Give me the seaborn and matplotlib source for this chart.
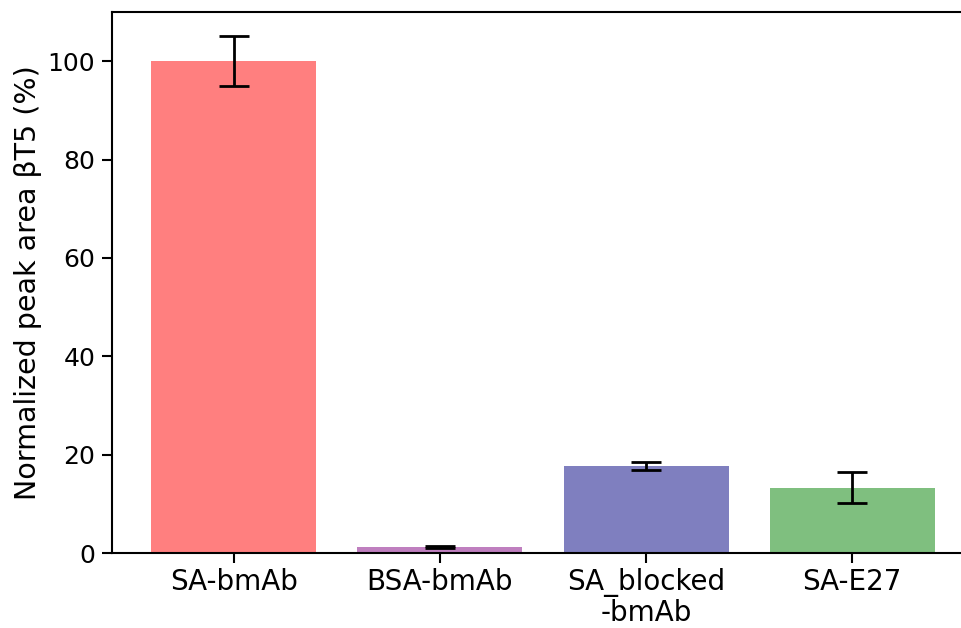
import matplotlib
matplotlib.use("Agg")
import matplotlib.pyplot as plt
import seaborn as sns
import pandas as pd

# Sample groups and measured values
groups = ["SA-bmAb", "BSA-bmAb", "SA_blocked\n-bmAb", "SA-E27"]
peak_area = [100.0, 1.2, 17.7, 13.3]
peak_err = [5.1, 0.2, 0.8, 3.2]
bar_colors = ["#FF7F7F", "#BF7FBF", "#7F7FBF", "#7FBF7F"]

sns.set_style("ticks")
plt.rcParams["font.family"] = ["DejaVu Sans"]

df = pd.DataFrame({"group": groups, "area": peak_area})

fig = plt.figure(figsize=(9.62, 6.28), dpi=100)
ax = fig.add_axes([0.1164, 0.1194, 0.896, 0.8616])

sns.barplot(data=df, x="group", y="area", hue="group", palette=bar_colors,
            order=groups, hue_order=groups, width=0.8, legend=False,
            saturation=1, errorbar=None, linewidth=0, ax=ax)

ax.errorbar(range(len(groups)), peak_area, yerr=peak_err, fmt="none",
            ecolor="black", elinewidth=2, capsize=11, capthick=2, zorder=3)

ax.set_xlim(-0.59, 3.59)
ax.set_ylim(0, 110)
ax.set_xlabel("")
ax.set_ylabel("Normalized peak area βT5 (%)", fontsize=20.5, color="black")
ax.tick_params(axis="x", labelsize=20, length=7, width=1.5, color="black",
               labelcolor="black", pad=4)
ax.tick_params(axis="y", labelsize=18, length=7, width=1.5, color="black",
               labelcolor="black", pad=5)
for lbl in ax.get_xticklabels():
    lbl.set_linespacing(1.08)
for name, s in ax.spines.items():
    s.set_visible(name != "right")
    s.set_linewidth(1.5)
    s.set_color("black")

fig.savefig("out.png", dpi=100)
